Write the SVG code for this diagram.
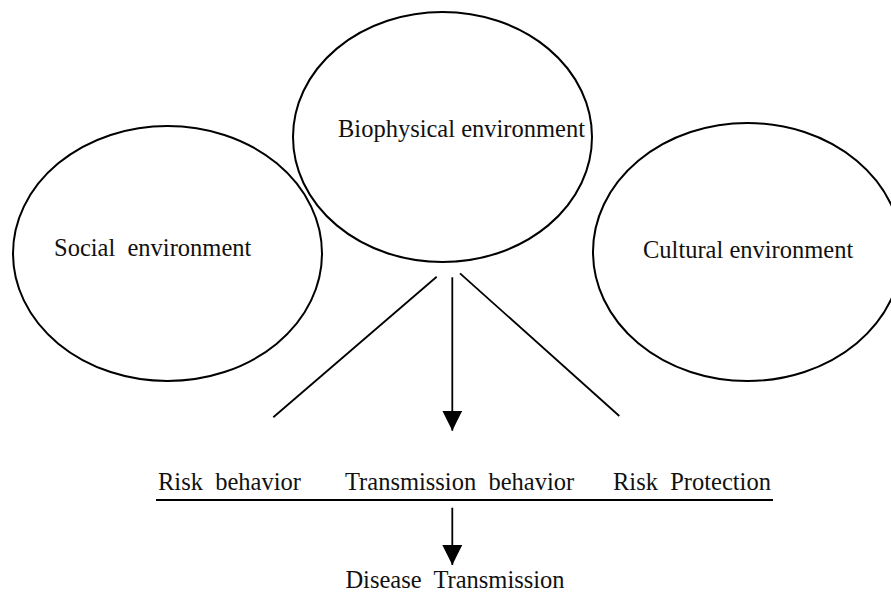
<svg xmlns="http://www.w3.org/2000/svg" width="891" height="601" viewBox="0 0 891 601">
<style>
.n{fill:#fff;stroke:#000;stroke-width:2}
.t{font-family:"Liberation Serif","Times New Roman",serif;font-size:24.5px;fill:#111;white-space:pre}
.c{stroke:#000;stroke-width:1.8;fill:none}
</style>
<defs>
<marker id="ah" markerWidth="20" markerHeight="20" refX="20" refY="10" orient="auto" markerUnits="userSpaceOnUse">
<path d="M0,0 L20,10 L0,20 Z" fill="#000"/>
</marker>
</defs>
<rect width="891" height="601" fill="#fff"/>
<g id="social">
<ellipse class="n" cx="167.5" cy="253.5" rx="154.5" ry="127.5"/>
<text class="t" x="54" y="256">Social  environment</text>
</g>
<g id="cultural">
<ellipse class="n" cx="747.5" cy="252" rx="154.5" ry="129"/>
<text class="t" x="643" y="258">Cultural environment</text>
</g>
<g id="biophysical">
<ellipse class="n" cx="442.5" cy="137" rx="149.5" ry="125"/>
<text class="t" x="338" y="137">Biophysical environment</text>
</g>
<g id="connectors">
<line class="c" x1="436.7" y1="276.7" x2="273.3" y2="417.3"/>
<line class="c" x1="460" y1="273.3" x2="619.3" y2="416"/>
<line class="c" x1="452.3" y1="277.3" x2="452.3" y2="430.7" marker-end="url(#ah)"/>
<line class="c" x1="452.3" y1="507.7" x2="452.3" y2="565" marker-end="url(#ah)"/>
<line class="c" x1="156" y1="500" x2="773" y2="500"/>
</g>
<g id="behaviors">
<text class="t" x="158" y="490">Risk  behavior</text>
<text class="t" x="345" y="490">Transmission  behavior</text>
<text class="t" x="613" y="490">Risk  Protection</text>
</g>
<g id="disease">
<text class="t" x="455" y="588" text-anchor="middle">Disease  Transmission</text>
</g>
</svg>
